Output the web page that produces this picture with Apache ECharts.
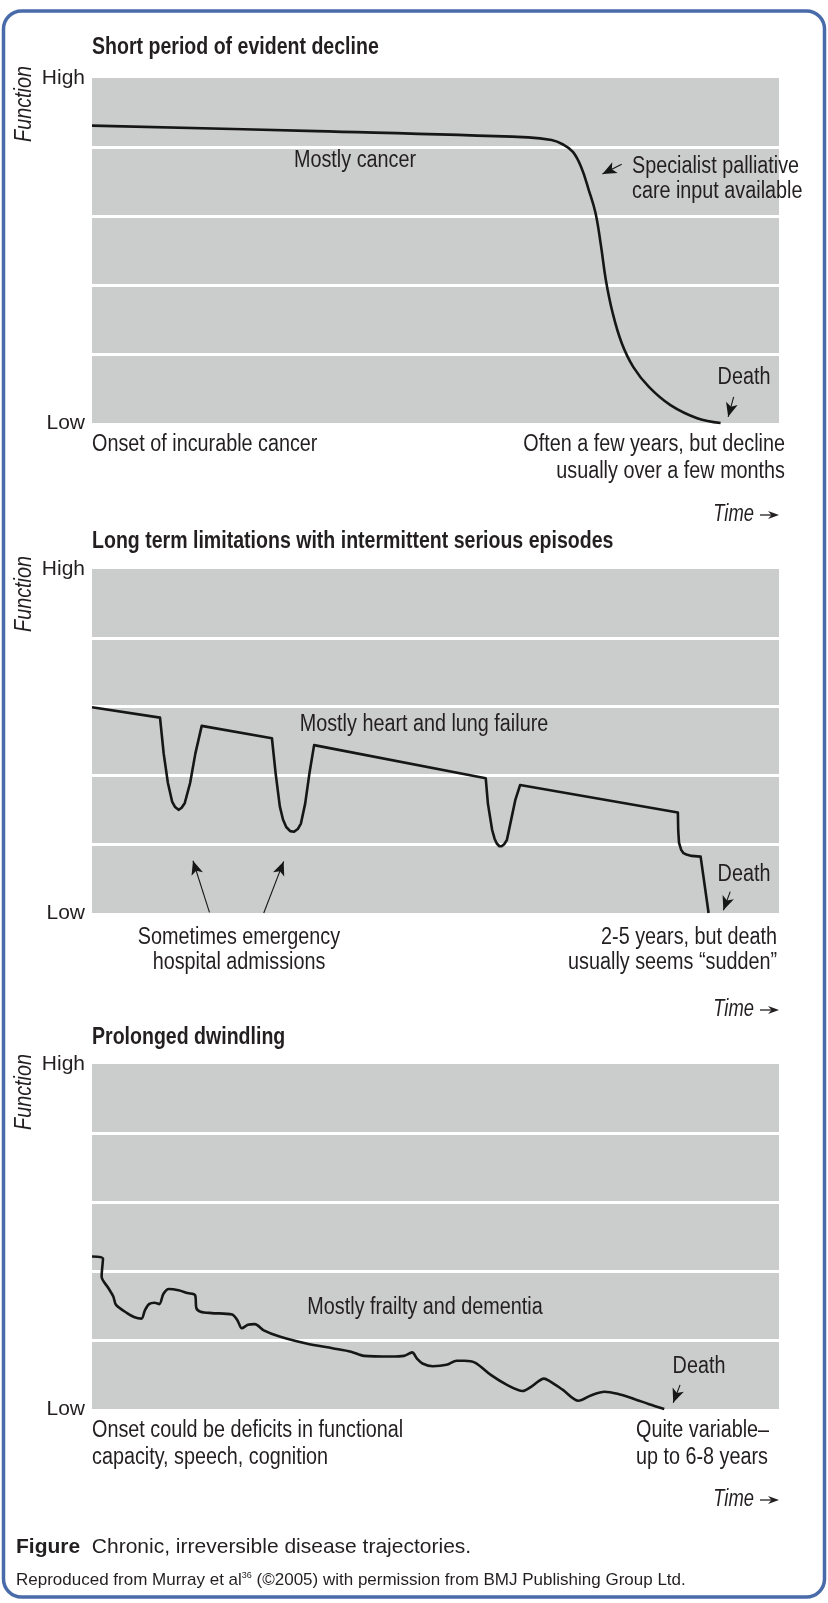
<!DOCTYPE html>
<html>
<head>
<meta charset="utf-8">
<script src="https://cdn.jsdelivr.net/npm/echarts@6/dist/echarts.min.js"></script>
<style>
  html, body { margin: 0; padding: 0; background: #fff; }
  #trajectories { width: 828px; height: 1603px; }
</style>
</head>
<body>
<div id="trajectories"></div>
<script>
// tick labels of the function axis (0..5)
const yTickLabels = ['Low', '', '', '', '', 'High']

// curves: [time 0-100, function 0-5]
const cancerCurve = [
  [0, 4.31], [32.7, 4.23], [63.5, 4.14], [66.9, 4.10], [68.5, 4.04], [70.0, 3.93],
  [71.2, 3.71], [72.3, 3.38], [73.3, 3.04], [74.1, 2.56], [74.8, 2.07], [75.8, 1.59],
  [77.1, 1.16], [78.8, 0.81], [81.1, 0.52], [84.2, 0.26], [88.1, 0.07], [91.5, 0]
]
const organFailureCurve = [
  [0, 2.99], [9.9, 2.84],
  [10.43, 2.32], [11.05, 1.89], [11.66, 1.62], [12.1, 1.54], [12.59, 1.50], [13.05, 1.53], [13.51, 1.60],
  [14.28, 1.89], [15.05, 2.32], [15.97, 2.72],
  [26.19, 2.54],
  [26.73, 2.03], [27.34, 1.55], [27.8, 1.36], [28.27, 1.25], [28.85, 1.19], [29.42, 1.18], [29.95, 1.22],
  [30.41, 1.30], [31.03, 1.59], [31.65, 2.03], [32.33, 2.44],
  [57.31, 1.96],
  [57.63, 1.59], [58.24, 1.21], [58.6, 1.08], [58.92, 1.01], [59.3, 0.97], [59.62, 0.97], [60.0, 1.0],
  [60.39, 1.06], [61.0, 1.35], [61.61, 1.64], [62.31, 1.86],
  [85.28, 1.46], [85.33, 1.2], [85.45, 1.02], [85.75, 0.92], [86.1, 0.87], [86.52, 0.85], [87.29, 0.83],
  [88.59, 0.82], [89.75, 0]
]
const frailtyCurve = [
  [0, 2.21], [1.6, 2.18], [1.4, 1.92], [2.4, 1.75], [3.1, 1.63], [3.5, 1.51], [5.1, 1.39],
  [6.2, 1.33], [7.2, 1.31], [7.7, 1.43], [8.3, 1.52], [9.1, 1.54], [9.8, 1.52], [10.4, 1.67],
  [11.2, 1.74], [12.6, 1.72], [13.9, 1.68], [15.0, 1.65], [15.2, 1.46], [15.8, 1.41], [17.4, 1.39],
  [20.4, 1.37], [21.2, 1.28], [21.8, 1.17], [22.7, 1.22], [23.7, 1.23], [25.0, 1.14], [27.3, 1.05],
  [31.2, 0.95], [35.0, 0.88], [37.7, 0.83], [39.6, 0.77], [43.5, 0.76], [45.4, 0.77], [46.6, 0.82],
  [47.3, 0.73], [48.1, 0.66], [49.6, 0.62], [51.6, 0.64], [53.1, 0.70], [54.2, 0.70], [55.8, 0.67],
  [58.1, 0.49], [60.4, 0.35], [62.7, 0.26], [63.9, 0.32], [65.8, 0.44], [66.5, 0.41], [68.5, 0.28],
  [70.8, 0.12], [72.7, 0.20], [74.6, 0.25], [76.5, 0.22], [78.8, 0.15], [81.1, 0.07], [83.3, 0]
]

// pointer arrows [tail, head] in the same units
const cancerArrows = [[[77.1, 3.75], [74.3, 3.61]], [[93.4, 0.38], [92.6, 0.09]]]
const organFailureArrows = [[[17.1, 0.01], [14.7, 0.76]], [[25.0, 0.0], [27.9, 0.75]], [[92.9, 0.31], [91.9, 0.04]]]
const frailtyArrows = [[[85.6, 0.35], [84.6, 0.09]]]

const FONT = "'Liberation Sans', Arial, sans-serif"
const INK = '#231f20'
const LINE = '#161616'

const panels = [
  { top: 78, height: 345, curve: cancerCurve, arrows: cancerArrows, smooth: 0.4 },
  { top: 569, height: 344, curve: organFailureCurve, arrows: organFailureArrows, smooth: false },
  { top: 1064, height: 345, curve: frailtyCurve, arrows: frailtyArrows, smooth: 0.3 }
]

// condensed look: the original face is a narrow grotesque, so squeeze horizontally
const txt = (x, y, text, o = {}) => ({
  type: 'text',
  x: x,
  y: y,
  rotation: o.rotation || 0,
  scaleX: o.scale === undefined ? 0.86 : o.scale,
  z: 100,
  style: {
    text: text,
    fill: INK,
    fontSize: o.size || 23,
    fontFamily: FONT,
    fontWeight: o.weight || 'normal',
    fontStyle: o.style || 'normal',
    align: o.align || 'left',
    textAlign: o.align || 'left',
    verticalAlign: 'middle',
    textVerticalAlign: 'middle',
    rich: o.rich
  }
})

const timeArrow = (y) => [
  txt(754, y, 'Time', { align: 'right', style: 'italic', scale: 0.8 }),
  { type: 'line', z: 100, shape: { x1: 760, y1: y, x2: 772, y2: y }, style: { stroke: INK, lineWidth: 1.3 } },
  { type: 'polygon', z: 100, shape: { points: [[779, y], [768, y - 4], [771.5, y], [768, y + 4]] }, style: { fill: INK } }
]

const myChart = echarts.init(document.getElementById('trajectories'), null, { renderer: 'canvas' })

const option = {
  animation: false,
  backgroundColor: '#fff',
  grid: panels.map(p => ({
    left: 92,
    top: p.top,
    width: 687,
    height: p.height,
    show: true,
    backgroundColor: '#cbcccc',
    borderWidth: 0
  })),
  xAxis: panels.map((p, i) => ({
    type: 'value',
    gridIndex: i,
    min: 0,
    max: 100,
    show: false
  })),
  yAxis: panels.map((p, i) => ({
    type: 'value',
    gridIndex: i,
    min: 0,
    max: 5,
    interval: 1,
    axisLine: { show: false },
    axisTick: { show: false },
    axisLabel: {
      margin: 7,
      color: INK,
      fontSize: 21,
      fontFamily: FONT,
      formatter: v => yTickLabels[v] || ''
    },
    splitLine: {
      show: true,
      showMinLine: false,
      showMaxLine: false,
      lineStyle: { color: '#ffffff', width: 3 }
    }
  })),
  series: panels.map((p, i) => ({
    type: 'line',
    xAxisIndex: i,
    yAxisIndex: i,
    data: p.curve,
    smooth: p.smooth,
    showSymbol: false,
    clip: false,
    lineStyle: { color: LINE, width: 2.6, join: 'round' },
    markLine: {
      silent: true,
      symbol: ['none', 'arrow'],
      symbolSize: [9, 14],
      label: { show: false },
      lineStyle: { color: LINE, width: 1.1, type: 'solid' },
      data: p.arrows.map(a => [{ coord: a[0] }, { coord: a[1] }])
    }
  })),
  graphic: [
    {
      type: 'rect',
      z: 0,
      shape: { x: 3.5, y: 11, width: 821, height: 1586, r: 18 },
      style: { fill: 'none', stroke: '#4a6ba9', lineWidth: 3.5 }
    },
    // panel titles
    txt(92, 48, 'Short period of evident decline', { weight: 'bold', scale: 0.85 }),
    txt(92, 542, 'Long term limitations with intermittent serious episodes', { weight: 'bold', scale: 0.85 }),
    txt(92, 1038, 'Prolonged dwindling', { weight: 'bold', scale: 0.85 }),
    // y axis names
    txt(25, 104, 'Function', { rotation: Math.PI / 2, align: 'center', style: 'italic' }),
    txt(25, 594, 'Function', { rotation: Math.PI / 2, align: 'center', style: 'italic' }),
    txt(25, 1092, 'Function', { rotation: Math.PI / 2, align: 'center', style: 'italic' }),
    // panel 1
    txt(355, 161, 'Mostly cancer', { align: 'center' }),
    txt(632, 167, 'Specialist palliative'),
    txt(632, 192, 'care input available'),
    txt(744, 378, 'Death', { align: 'center' }),
    txt(92, 445, 'Onset of incurable cancer'),
    txt(785, 445, 'Often a few years, but decline', { align: 'right' }),
    txt(785, 472, 'usually over a few months', { align: 'right' }),
    ...timeArrow(515),
    // panel 2
    txt(424, 725, 'Mostly heart and lung failure', { align: 'center' }),
    txt(744, 875, 'Death', { align: 'center' }),
    txt(239, 938, 'Sometimes emergency', { align: 'center' }),
    txt(239, 963, 'hospital admissions', { align: 'center' }),
    txt(777, 938, '2-5 years, but death', { align: 'right' }),
    txt(777, 963, 'usually seems \u201Csudden\u201D', { align: 'right' }),
    ...timeArrow(1010),
    // panel 3
    txt(425, 1308, 'Mostly frailty and dementia', { align: 'center' }),
    txt(699, 1367, 'Death', { align: 'center' }),
    txt(92, 1431, 'Onset could be deficits in functional'),
    txt(92, 1458, 'capacity, speech, cognition'),
    txt(636, 1431, 'Quite variable\u2013'),
    txt(636, 1458, 'up to 6-8 years'),
    ...timeArrow(1500),
    // caption
    txt(16, 1547, '{b|Figure}  Chronic, irreversible disease trajectories.', {
      size: 21,
      scale: 1,
      rich: { b: { fontWeight: 'bold', fontSize: 21, fontFamily: FONT, fill: INK } }
    }),
    txt(16, 1580, 'Reproduced from Murray et al{s|36} (\u00A92005) with permission from BMJ Publishing Group Ltd.', {
      size: 17,
      scale: 1,
      rich: { s: { fontSize: 9, fontFamily: FONT, fill: INK, verticalAlign: 'top', padding: [0, 0, 6, 0] } }
    })
  ]
}

myChart.setOption(option)
</script>
</body>
</html>
